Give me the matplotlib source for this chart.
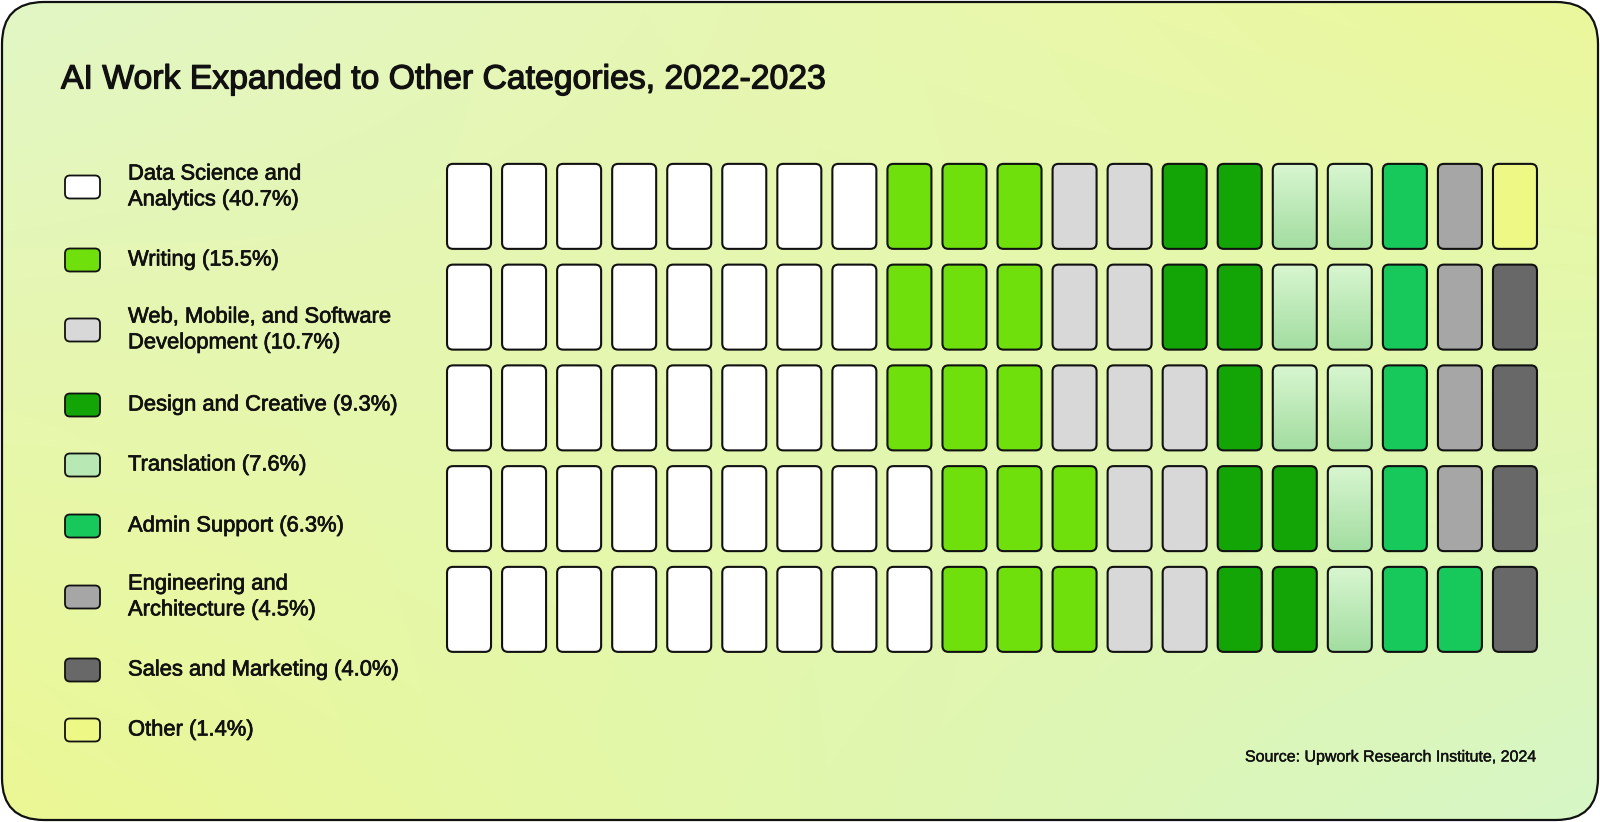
import numpy as np
import matplotlib
matplotlib.use("Agg")
import matplotlib.pyplot as plt
import matplotlib.patheffects as pe
from matplotlib.patches import FancyBboxPatch
from matplotlib.colors import to_rgb

# data
categories = ["Data Science and\nAnalytics (40.7%)", "Writing (15.5%)",
              "Web, Mobile, and Software\nDevelopment (10.7%)", "Design and Creative (9.3%)",
              "Translation (7.6%)", "Admin Support (6.3%)",
              "Engineering and\nArchitecture (4.5%)", "Sales and Marketing (4.0%)",
              "Other (1.4%)"]
shares = [40.7, 15.5, 10.7, 9.3, 7.6, 6.3, 4.5, 4.0, 1.4]
cells = [42, 15, 11, 9, 8, 6, 4, 4, 1]   # squares out of 100 in the waffle
colors = ["#ffffff", "#6fe00b", "#d8d8d8", "#13a505", "#b8e8b4",
          "#16c95a", "#a6a6a6", "#686868", "#eef885"]
n_rows, n_cols = 5, 20

plt.rcParams['font.family'] = ['Liberation Sans', 'DejaVu Sans']

def thick(w):
    return [pe.withStroke(linewidth=w, foreground="#111111")]

W, H = 1600, 822
fig = plt.figure(figsize=(16, 8.22), dpi=100)
fig.patch.set_facecolor("white")

# background card with gradient
bg = fig.add_axes([0, 0, 1, 1])
bg.set_xlim(0, W)
bg.set_ylim(H, 0)
bg.axis("off")
tl, tr = np.array(to_rgb("#e2f6c6")), np.array(to_rgb("#ecf89c"))
bl, br = np.array(to_rgb("#ecf894")), np.array(to_rgb("#d6f6c6"))
u = np.linspace(0, 1, 200)[None, :, None]
v = np.linspace(0, 1, 110)[:, None, None]
grad = (1 - u) * (1 - v) * tl + u * (1 - v) * tr + (1 - u) * v * bl + u * v * br
card = FancyBboxPatch((2, 2), W - 4, H - 4, boxstyle="round,pad=0,rounding_size=42",
                      fc="none", ec="#111111", lw=1.6, zorder=3)
bg.add_patch(card)
im = bg.imshow(grad, extent=(2, W - 2, H - 2, 2), aspect="auto", zorder=1,
               interpolation="bilinear")
im.set_clip_path(card)

bg.text(61, 80, "AI Work Expanded to Other Categories, 2022-2023", fontsize=24.3,
        va="center", ha="left", color="#111111", path_effects=thick(0.9))
bg.text(1537, 757, "Source: Upwork Research Institute, 2024", fontsize=11.5,
        va="center", ha="left" if False else "right", color="#111111",
        path_effects=thick(0.3))

# legend
leg_y = [187, 260, 330, 405, 465, 526, 597, 670, 730]
for lab, col, y in zip(categories, colors, leg_y):
    p = FancyBboxPatch((65, y - 11.5), 35, 23, boxstyle="round,pad=0,rounding_size=5",
                       fc=col, ec="#111111", lw=1.3, zorder=4)
    bg.add_patch(p)
    bg.text(128, y, lab, fontsize=15.8, va="center", ha="left", color="#111111",
            linespacing=1.3, zorder=4, path_effects=thick(0.5))

# waffle: fill column by column, bottom to top
grid = []
for k, c in enumerate(cells):
    grid += [k] * c
x0, x1 = 441.5, 441.5 + 55.05 * n_cols
y0, y1 = 156, 156 + 100.75 * n_rows
ax = fig.add_axes([x0 / W, 1 - y1 / H, (x1 - x0) / W, (y1 - y0) / H])
ax.set_xlim(0, n_cols)
ax.set_ylim(n_rows, 0)
ax.axis("off")
cw, ch = 44 / 55.05, 85 / 100.75
asp = 55.05 / 100.75
r = 6 / 55.05
for i, k in enumerate(grid):
    col = i // n_rows
    row = n_rows - 1 - i % n_rows
    xl = col + 0.5 - cw / 2
    yt = row + 0.5 - ch / 2
    p = FancyBboxPatch((xl, yt), cw, ch, boxstyle=f"round,pad=0,rounding_size={r}",
                       mutation_aspect=asp, fc=colors[k], ec="#111111", lw=1.5, zorder=3)
    ax.add_patch(p)
    if categories[k].startswith("Translation"):
        p.set_facecolor("none")
        g = np.linspace(0, 1, 50)[:, None, None]
        shade = (1 - g) * np.array(to_rgb("#d8f6d0")) + g * np.array(to_rgb("#a2dda0"))
        gi = ax.imshow(shade, extent=(xl, xl + cw, yt + ch, yt), aspect="auto", zorder=2,
                       interpolation="bilinear")
        gi.set_clip_path(p)

ax.set_xlim(0, n_cols)
ax.set_ylim(n_rows, 0)

fig.savefig("out.png", dpi=100)
